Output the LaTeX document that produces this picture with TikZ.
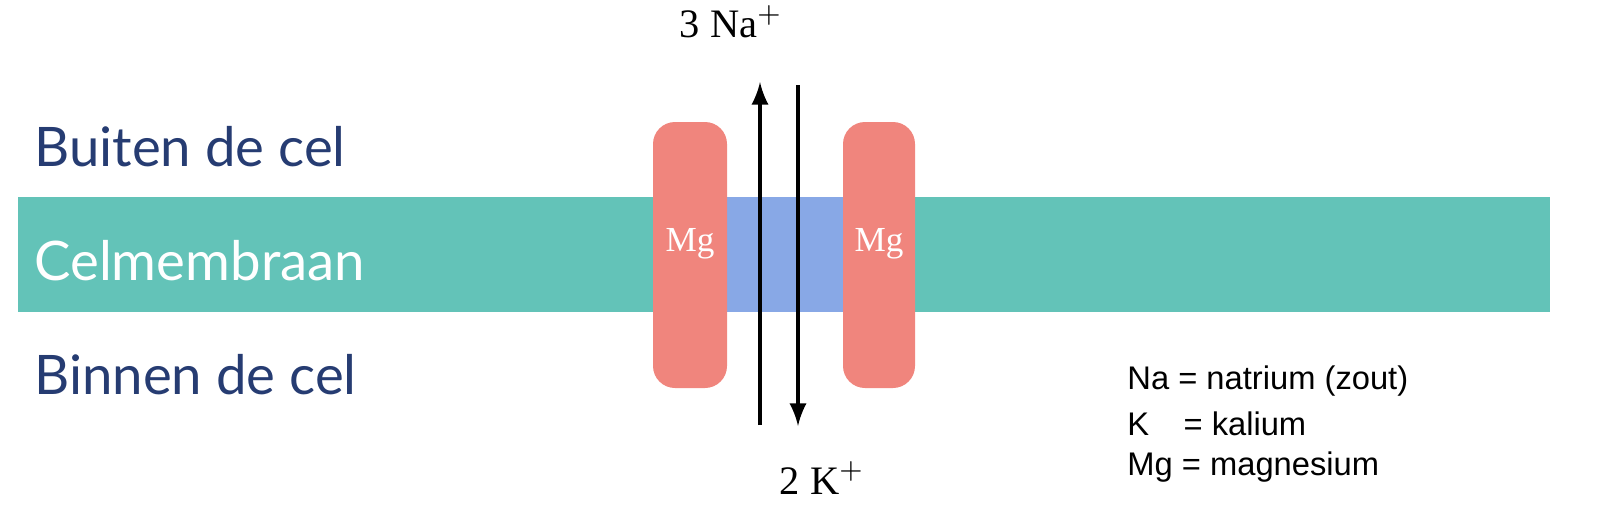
\documentclass[tikz,border=0pt]{standalone}
\usepackage{fontspec}
\newfontfamily\lab{Lato}
\newfontfamily\legf{Liberation Sans}
\newfontfamily\serf{Liberation Serif}
\definecolor{teal}{HTML}{63C3B8}
\definecolor{pblue}{HTML}{88A8E6}
\definecolor{pred}{HTML}{F0857D}
\definecolor{dblue}{HTML}{263C72}
\begin{document}
\begin{tikzpicture}[x=0.01cm,y=-0.01cm,
  side/.style={font=\lab\fontsize{15.5}{18}\selectfont,anchor=west},
  prot/.style={fill=pred,rounded corners=0.22cm,draw=none},
  mg/.style={text=white,font=\serf\fontsize{10}{12}\selectfont},
  ion/.style={font=\serf\fontsize{11.5}{13}\selectfont},
  leg/.style={font=\legf\fontsize{9.3}{11}\selectfont,anchor=west}]
\fill[teal] (18,197) rectangle (1550,312);
\fill[pblue] (725,197) rectangle (845,312);
\fill[prot] (653,122) rectangle (727,388);
\fill[prot] (843,122) rectangle (915,388);
\node[mg] (m1) at (690,244) {Mg};
\node[mg] (m2) at (879,244) {Mg};
\node[side,text=dblue] (b) at (22,147) {Buiten de cel};
\node[side,text=white] (c) at (22,261) {Celmembraan};
\node[side,text=dblue] (i) at (22,375) {Binnen de cel};
\node[ion] (na) at (731,22) {3 Na$^+$};
\node[ion] (k) at (822,478) {2 K$^+$};
\coordinate (u1) at (760,425); \coordinate (u2) at (760,82);
\coordinate (d1) at (798,85); \coordinate (d2) at (798,426);
\draw[-latex,line width=1.2pt] (u1) -- (u2);
\draw[-latex,line width=1.2pt] (d1) -- (d2);
\node[leg] (l1) at (1115,381) {Na = natrium (zout)};
\node[leg] (l2) at (1115,424) {K\hspace{1.05em}= kalium};
\node[leg] (l3) at (1115,467) {Mg = magnesium};
\pgfresetboundingbox
\useasboundingbox (0,0) rectangle (1600,512);
\end{tikzpicture}
\end{document}
